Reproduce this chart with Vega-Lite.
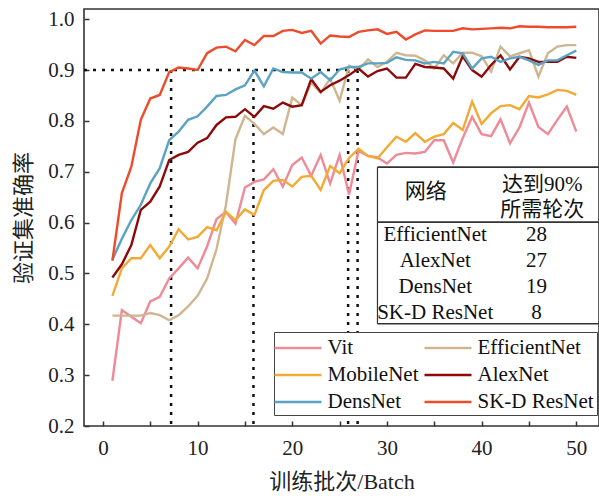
{
  "$schema": "https://vega.github.io/schema/vega-lite/v6.json",
  "width": 515,
  "height": 417,
  "autosize": "none",
  "padding": {"left": 84, "top": 9, "right": 0, "bottom": 70},
  "config": {
    "font": "Liberation Serif",
    "view": {"stroke": "#333333", "strokeWidth": 1.6},
    "axis": {
      "grid": false,
      "domain": false,
      "tickSize": -5,
      "tickColor": "#333333",
      "tickWidth": 1.5,
      "labelFont": "Liberation Serif",
      "labelFontSize": 21,
      "labelColor": "#222222",
      "labelOverlap": false,
      "titleFont": "Liberation Serif, Noto Sans CJK SC",
      "titleFontSize": 22,
      "titleFontWeight": "normal",
      "titleColor": "#222222"
    }
  },
  "datasets": {
    "acc": [
      {"epoch": 1, "Vit": 0.289, "EfficientNet": 0.417, "MobileNet": 0.456, "AlexNet": 0.492, "DensNet": 0.527, "SK-D ResNet": 0.525},
      {"epoch": 2, "Vit": 0.428, "EfficientNet": 0.417, "MobileNet": 0.510, "AlexNet": 0.518, "DensNet": 0.568, "SK-D ResNet": 0.658},
      {"epoch": 3, "Vit": 0.415, "EfficientNet": 0.417, "MobileNet": 0.530, "AlexNet": 0.556, "DensNet": 0.605, "SK-D ResNet": 0.710},
      {"epoch": 4, "Vit": 0.402, "EfficientNet": 0.417, "MobileNet": 0.530, "AlexNet": 0.625, "DensNet": 0.635, "SK-D ResNet": 0.802},
      {"epoch": 5, "Vit": 0.445, "EfficientNet": 0.422, "MobileNet": 0.556, "AlexNet": 0.641, "DensNet": 0.677, "SK-D ResNet": 0.844},
      {"epoch": 6, "Vit": 0.454, "EfficientNet": 0.418, "MobileNet": 0.530, "AlexNet": 0.671, "DensNet": 0.707, "SK-D ResNet": 0.851},
      {"epoch": 7, "Vit": 0.490, "EfficientNet": 0.408, "MobileNet": 0.553, "AlexNet": 0.723, "DensNet": 0.762, "SK-D ResNet": 0.896},
      {"epoch": 8, "Vit": 0.510, "EfficientNet": 0.418, "MobileNet": 0.587, "AlexNet": 0.733, "DensNet": 0.779, "SK-D ResNet": 0.905},
      {"epoch": 9, "Vit": 0.531, "EfficientNet": 0.435, "MobileNet": 0.567, "AlexNet": 0.739, "DensNet": 0.802, "SK-D ResNet": 0.903},
      {"epoch": 10, "Vit": 0.510, "EfficientNet": 0.456, "MobileNet": 0.572, "AlexNet": 0.757, "DensNet": 0.809, "SK-D ResNet": 0.900},
      {"epoch": 11, "Vit": 0.553, "EfficientNet": 0.490, "MobileNet": 0.591, "AlexNet": 0.766, "DensNet": 0.828, "SK-D ResNet": 0.933},
      {"epoch": 12, "Vit": 0.607, "EfficientNet": 0.548, "MobileNet": 0.585, "AlexNet": 0.792, "DensNet": 0.849, "SK-D ResNet": 0.944},
      {"epoch": 13, "Vit": 0.621, "EfficientNet": 0.635, "MobileNet": 0.621, "AlexNet": 0.807, "DensNet": 0.851, "SK-D ResNet": 0.946},
      {"epoch": 14, "Vit": 0.598, "EfficientNet": 0.764, "MobileNet": 0.605, "AlexNet": 0.808, "DensNet": 0.862, "SK-D ResNet": 0.937},
      {"epoch": 15, "Vit": 0.669, "EfficientNet": 0.810, "MobileNet": 0.626, "AlexNet": 0.823, "DensNet": 0.870, "SK-D ResNet": 0.959},
      {"epoch": 16, "Vit": 0.680, "EfficientNet": 0.794, "MobileNet": 0.615, "AlexNet": 0.808, "DensNet": 0.899, "SK-D ResNet": 0.949},
      {"epoch": 17, "Vit": 0.685, "EfficientNet": 0.774, "MobileNet": 0.664, "AlexNet": 0.829, "DensNet": 0.868, "SK-D ResNet": 0.967},
      {"epoch": 18, "Vit": 0.705, "EfficientNet": 0.787, "MobileNet": 0.682, "AlexNet": 0.824, "DensNet": 0.903, "SK-D ResNet": 0.967},
      {"epoch": 19, "Vit": 0.671, "EfficientNet": 0.774, "MobileNet": 0.684, "AlexNet": 0.836, "DensNet": 0.896, "SK-D ResNet": 0.977},
      {"epoch": 20, "Vit": 0.713, "EfficientNet": 0.846, "MobileNet": 0.671, "AlexNet": 0.828, "DensNet": 0.895, "SK-D ResNet": 0.979},
      {"epoch": 21, "Vit": 0.728, "EfficientNet": 0.831, "MobileNet": 0.690, "AlexNet": 0.831, "DensNet": 0.895, "SK-D ResNet": 0.973},
      {"epoch": 22, "Vit": 0.692, "EfficientNet": 0.875, "MobileNet": 0.692, "AlexNet": 0.882, "DensNet": 0.883, "SK-D ResNet": 0.977},
      {"epoch": 23, "Vit": 0.733, "EfficientNet": 0.855, "MobileNet": 0.664, "AlexNet": 0.857, "DensNet": 0.896, "SK-D ResNet": 0.952},
      {"epoch": 24, "Vit": 0.677, "EfficientNet": 0.883, "MobileNet": 0.711, "AlexNet": 0.870, "DensNet": 0.880, "SK-D ResNet": 0.968},
      {"epoch": 25, "Vit": 0.733, "EfficientNet": 0.840, "MobileNet": 0.697, "AlexNet": 0.879, "DensNet": 0.901, "SK-D ResNet": 0.966},
      {"epoch": 26, "Vit": 0.655, "EfficientNet": 0.908, "MobileNet": 0.727, "AlexNet": 0.890, "DensNet": 0.906, "SK-D ResNet": 0.965},
      {"epoch": 27, "Vit": 0.741, "EfficientNet": 0.901, "MobileNet": 0.745, "AlexNet": 0.903, "DensNet": 0.906, "SK-D ResNet": 0.975},
      {"epoch": 28, "Vit": 0.731, "EfficientNet": 0.921, "MobileNet": 0.731, "AlexNet": 0.887, "DensNet": 0.913, "SK-D ResNet": 0.978},
      {"epoch": 29, "Vit": 0.728, "EfficientNet": 0.906, "MobileNet": 0.726, "AlexNet": 0.898, "DensNet": 0.913, "SK-D ResNet": 0.980},
      {"epoch": 30, "Vit": 0.716, "EfficientNet": 0.916, "MobileNet": 0.748, "AlexNet": 0.903, "DensNet": 0.914, "SK-D ResNet": 0.971},
      {"epoch": 31, "Vit": 0.733, "EfficientNet": 0.934, "MobileNet": 0.769, "AlexNet": 0.885, "DensNet": 0.925, "SK-D ResNet": 0.975},
      {"epoch": 32, "Vit": 0.737, "EfficientNet": 0.929, "MobileNet": 0.759, "AlexNet": 0.885, "DensNet": 0.920, "SK-D ResNet": 0.960},
      {"epoch": 33, "Vit": 0.736, "EfficientNet": 0.928, "MobileNet": 0.776, "AlexNet": 0.912, "DensNet": 0.919, "SK-D ResNet": 0.970},
      {"epoch": 34, "Vit": 0.739, "EfficientNet": 0.919, "MobileNet": 0.759, "AlexNet": 0.906, "DensNet": 0.913, "SK-D ResNet": 0.978},
      {"epoch": 35, "Vit": 0.762, "EfficientNet": 0.903, "MobileNet": 0.769, "AlexNet": 0.905, "DensNet": 0.916, "SK-D ResNet": 0.977},
      {"epoch": 36, "Vit": 0.762, "EfficientNet": 0.929, "MobileNet": 0.774, "AlexNet": 0.903, "DensNet": 0.913, "SK-D ResNet": 0.977},
      {"epoch": 37, "Vit": 0.718, "EfficientNet": 0.913, "MobileNet": 0.796, "AlexNet": 0.883, "DensNet": 0.936, "SK-D ResNet": 0.977},
      {"epoch": 38, "Vit": 0.766, "EfficientNet": 0.934, "MobileNet": 0.782, "AlexNet": 0.927, "DensNet": 0.933, "SK-D ResNet": 0.982},
      {"epoch": 39, "Vit": 0.808, "EfficientNet": 0.934, "MobileNet": 0.838, "AlexNet": 0.900, "DensNet": 0.903, "SK-D ResNet": 0.980},
      {"epoch": 40, "Vit": 0.774, "EfficientNet": 0.927, "MobileNet": 0.794, "AlexNet": 0.887, "DensNet": 0.923, "SK-D ResNet": 0.981},
      {"epoch": 41, "Vit": 0.770, "EfficientNet": 0.897, "MobileNet": 0.815, "AlexNet": 0.910, "DensNet": 0.926, "SK-D ResNet": 0.982},
      {"epoch": 42, "Vit": 0.803, "EfficientNet": 0.946, "MobileNet": 0.829, "AlexNet": 0.929, "DensNet": 0.916, "SK-D ResNet": 0.983},
      {"epoch": 43, "Vit": 0.756, "EfficientNet": 0.927, "MobileNet": 0.831, "AlexNet": 0.901, "DensNet": 0.923, "SK-D ResNet": 0.982},
      {"epoch": 44, "Vit": 0.787, "EfficientNet": 0.933, "MobileNet": 0.823, "AlexNet": 0.926, "DensNet": 0.926, "SK-D ResNet": 0.986},
      {"epoch": 45, "Vit": 0.836, "EfficientNet": 0.939, "MobileNet": 0.849, "AlexNet": 0.923, "DensNet": 0.919, "SK-D ResNet": 0.985},
      {"epoch": 46, "Vit": 0.788, "EfficientNet": 0.887, "MobileNet": 0.846, "AlexNet": 0.916, "DensNet": 0.910, "SK-D ResNet": 0.985},
      {"epoch": 47, "Vit": 0.774, "EfficientNet": 0.933, "MobileNet": 0.852, "AlexNet": 0.916, "DensNet": 0.919, "SK-D ResNet": 0.984},
      {"epoch": 48, "Vit": 0.802, "EfficientNet": 0.946, "MobileNet": 0.861, "AlexNet": 0.916, "DensNet": 0.919, "SK-D ResNet": 0.984},
      {"epoch": 49, "Vit": 0.828, "EfficientNet": 0.949, "MobileNet": 0.859, "AlexNet": 0.926, "DensNet": 0.929, "SK-D ResNet": 0.984},
      {"epoch": 50, "Vit": 0.779, "EfficientNet": 0.949, "MobileNet": 0.851, "AlexNet": 0.924, "DensNet": 0.938, "SK-D ResNet": 0.985}
    ],
    "reach": [
      {"net": "SK-D ResNet", "epoch": 7.2},
      {"net": "DensNet", "epoch": 15.9},
      {"net": "EfficientNet", "epoch": 25.9},
      {"net": "AlexNet", "epoch": 26.9}
    ],
    "table": [
      {"net": "EfficientNet", "epochs": 28},
      {"net": "AlexNet", "epochs": 27},
      {"net": "DensNet", "epochs": 19},
      {"net": "SK-D ResNet", "epochs": 8}
    ]
  },
  "layer": [
    {
      "layer": [
        {
          "data": {"name": "reach"},
          "mark": {"type": "rule", "color": "#111111", "strokeWidth": 2.5, "strokeDash": [3, 6]},
          "encoding": {
            "x": {"field": "epoch", "type": "quantitative"},
            "y": {"datum": 0.9},
            "y2": {"datum": 0.2}
          }
        },
        {
          "data": {"values": [{}]},
          "mark": {"type": "rule", "color": "#111111", "strokeWidth": 2.5, "strokeDash": [3, 6]},
          "encoding": {
            "x": {"datum": -2},
            "x2": {"datum": 26.9},
            "y": {"datum": 0.9}
          }
        },
        {
          "data": {"name": "acc"},
          "transform": [
            {"fold": ["Vit", "EfficientNet", "MobileNet", "AlexNet", "DensNet", "SK-D ResNet"], "as": ["net", "acc"]}
          ],
          "mark": {"type": "line", "strokeWidth": 2.4},
          "encoding": {
            "x": {
              "field": "epoch",
              "type": "quantitative",
              "scale": {"domain": [-2, 52.4], "nice": false, "zero": false},
              "axis": {
                "values": [0, 5, 10, 15, 20, 25, 30, 35, 40, 45, 50],
                "labelExpr": "datum.value % 10 === 0 ? datum.label : ''",
                "title": "训练批次/Batch",
                "labelPadding": 16,
                "titlePadding": 13
              }
            },
            "y": {
              "field": "acc",
              "type": "quantitative",
              "scale": {"domain": [0.2, 1.02], "nice": false, "zero": false},
              "axis": {
                "values": [0.2, 0.25, 0.3, 0.35, 0.4, 0.45, 0.5, 0.55, 0.6, 0.65, 0.7, 0.75, 0.8, 0.85, 0.9, 0.95, 1.0],
                "labelExpr": "round(datum.value * 100) % 10 === 0 ? format(datum.value, '.1f') : ''",
                "title": "验证集准确率",
                "labelPadding": 15,
                "titlePadding": 12
              }
            },
            "color": {
              "field": "net",
              "type": "nominal",
              "scale": {
                "domain": ["Vit", "EfficientNet", "MobileNet", "AlexNet", "DensNet", "SK-D ResNet"],
                "range": ["#EF8A98", "#CFB690", "#F2AA35", "#8B0B0B", "#5AA3C3", "#EE4B2B"]
              },
              "legend": {
                "orient": "none",
                "legendX": 190,
                "legendY": 323,
                "columns": 2,
                "direction": "horizontal",
                "title": null,
                "symbolType": "M-2,0H2",
                "symbolSize": 552.25,
                "symbolStrokeWidth": 2.5,
                "symbolOffset": 8,
                "labelFont": "Liberation Serif",
                "labelFontSize": 21,
                "labelColor": "#111111",
                "labelOffset": 16.5,
                "labelLimit": 300,
                "columnPadding": 0,
                "rowPadding": 4,
                "padding": 3,
                "strokeColor": "#444444",
                "fillColor": "#ffffff"
              }
            }
          }
        },
        {
          "data": {"values": [{}]},
          "mark": {"type": "rule", "color": "#333333", "strokeWidth": 1.6},
          "encoding": {"x": {"datum": 29}, "x2": {"datum": 52.4}, "y": {"datum": 0.709}}
        },
        {
          "data": {"values": [{}]},
          "mark": {"type": "rule", "color": "#333333", "strokeWidth": 1.6},
          "encoding": {"x": {"datum": 29}, "x2": {"datum": 52.4}, "y": {"datum": 0.601}}
        },
        {
          "data": {"values": [{}]},
          "mark": {"type": "rule", "color": "#333333", "strokeWidth": 1.6},
          "encoding": {"x": {"datum": 29}, "x2": {"datum": 52.4}, "y": {"datum": 0.401}}
        },
        {
          "data": {"values": [{}]},
          "mark": {"type": "rule", "color": "#333333", "strokeWidth": 1.2},
          "encoding": {"x": {"datum": 29}, "y": {"datum": 0.709}, "y2": {"datum": 0.401}}
        },
        {
          "data": {"values": [{}]},
          "mark": {"type": "text", "text": "网络", "font": "Liberation Serif, Noto Sans CJK SC", "fontSize": 21, "color": "#111111", "align": "center", "baseline": "middle"},
          "encoding": {"x": {"datum": 34.1}, "y": {"datum": 0.66}}
        },
        {
          "data": {"values": [{}]},
          "mark": {"type": "text", "text": ["达到90%", "所需轮次"], "lineHeight": 25, "font": "Liberation Serif, Noto Sans CJK SC", "fontSize": 21, "color": "#111111", "align": "center", "baseline": "middle"},
          "encoding": {"x": {"datum": 46.4}, "y": {"datum": 0.674}}
        }
      ]
    },
    {
      "data": {"name": "table"},
      "encoding": {
        "y": {
          "field": "net",
          "type": "nominal",
          "scale": {"type": "point", "domain": ["EfficientNet", "AlexNet", "DensNet", "SK-D ResNet"], "range": [226, 304], "padding": 0},
          "axis": null
        }
      },
      "layer": [
        {
          "mark": {"type": "text", "font": "Liberation Serif", "fontSize": 21, "color": "#111111", "align": "center", "baseline": "middle"},
          "encoding": {"x": {"datum": 35.1}, "text": {"field": "net"}}
        },
        {
          "mark": {"type": "text", "font": "Liberation Serif", "fontSize": 21, "color": "#111111", "align": "center", "baseline": "middle"},
          "encoding": {"x": {"datum": 45.8}, "text": {"field": "epochs"}}
        }
      ]
    }
  ],
  "resolve": {"scale": {"y": "independent"}}
}
